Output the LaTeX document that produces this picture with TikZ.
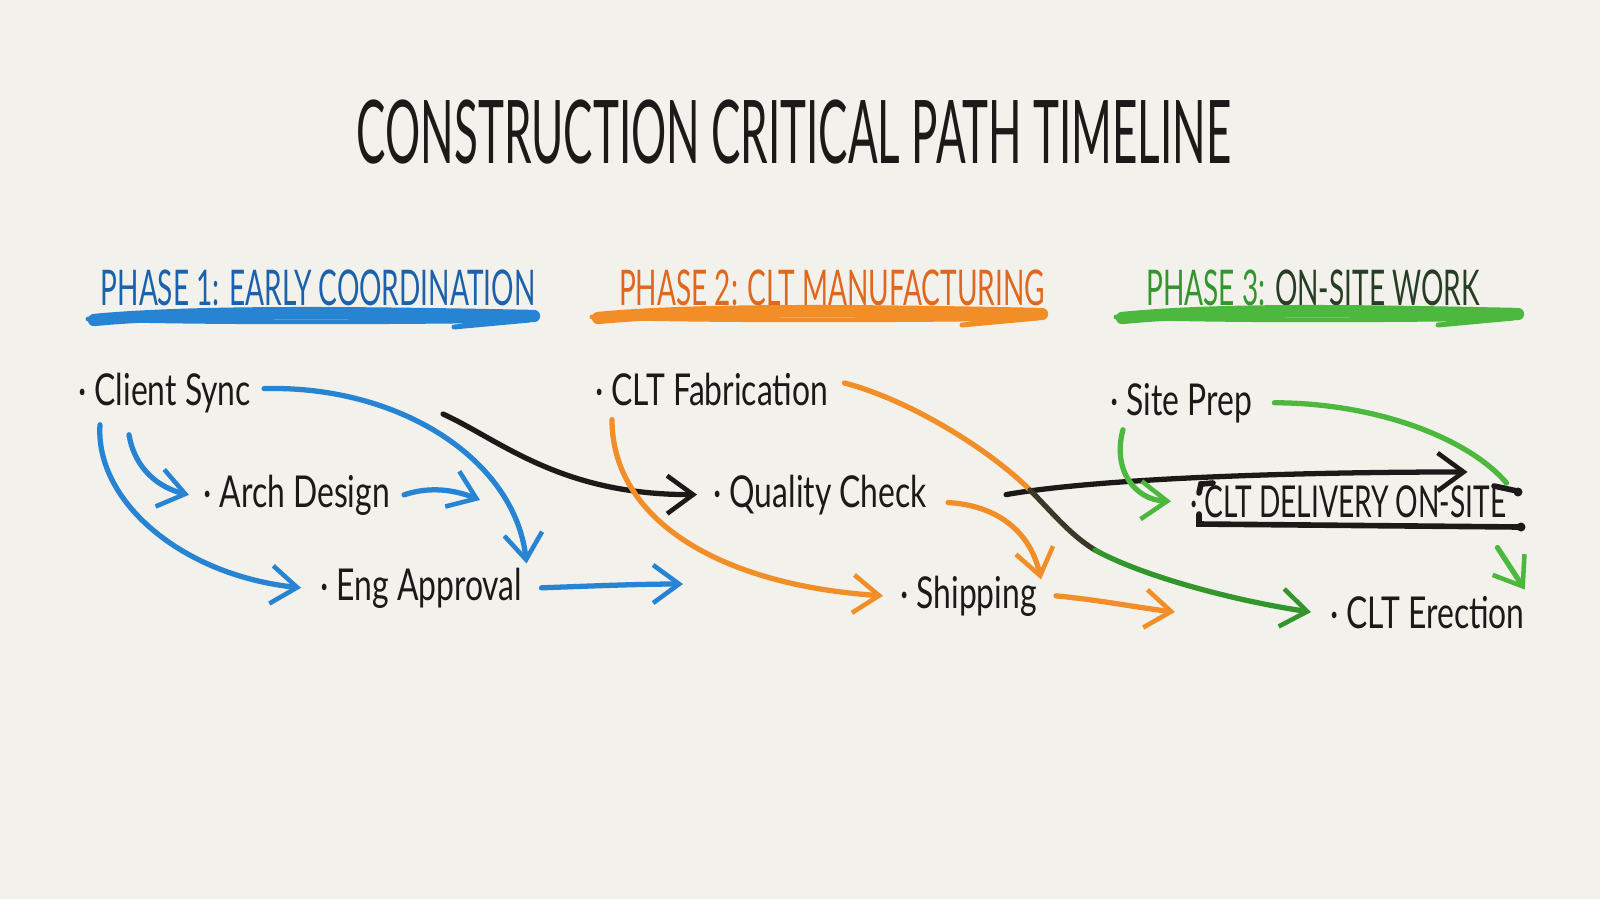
\documentclass[tikz,border=0pt]{standalone}
\usepackage{fontspec}
\usetikzlibrary{arrows.meta}
\newfontfamily\hand[FakeStretch=0.725]{Lato}
\newfontfamily\handcaps[FakeStretch=0.57]{Lato}
\newfontfamily\delivfont[FakeStretch=0.64]{Lato}
\newfontfamily\titlefont[FakeStretch=0.5]{Lato}
\definecolor{paper}{RGB}{243,241,235}
\definecolor{ink}{RGB}{28,26,24}
\definecolor{pblue}{RGB}{38,132,210}
\definecolor{dblue}{RGB}{28,98,170}
\definecolor{porange}{RGB}{242,142,40}
\definecolor{dorange}{RGB}{222,105,30}
\definecolor{pgreen}{RGB}{76,184,62}
\definecolor{dgreen}{RGB}{50,150,45}
\definecolor{mud}{RGB}{60,55,40}
\definecolor{ongreen}{RGB}{40,62,36}

\begin{document}
\begin{tikzpicture}[x=0.1mm,y=-0.1mm,
  item/.style={font=\hand\fontsize{12.5}{14}\selectfont,text=ink,inner sep=1pt,anchor=base west},
  phase/.style={font=\handcaps\fontsize{14}{16}\selectfont,inner sep=1pt},
  pen/.style={line width=1.5pt,line cap=round,line join=round},
  tip/.style={-{Straight Barb[length=2.6mm,width=3.8mm,line width=1.3pt]}}]

  \useasboundingbox (0,0) rectangle (1600,899);
  \fill[paper] (0,0) rectangle (1600,899);

  \node[font=\titlefont\fontsize{25}{28}\selectfont,text=ink,inner sep=0pt] (T) at (794,132) {CONSTRUCTION CRITICAL PATH TIMELINE};

  \node[phase,text=dblue] (P1) at (318,288) {PHASE 1: EARLY COORDINATION};
  \node[phase,text=dorange] (P2) at (832,288) {PHASE 2: CLT MANUFACTURING};
  \node[phase,text=dgreen] (P3) at (1313,288) {PHASE 3: \textcolor{ongreen}{ON-SITE WORK}};

  \foreach \c/\a/\b/\y in {pblue/88/534/318,porange/592/1042/316,pgreen/1116/1518/316} {
    \draw[\c,line width=3.5pt,line cap=round] (\a+6,\y+2) .. controls (\a+110,\y-8) and (\b-150,\y-5) .. (\b,\y-2);
    \draw[\c,line width=1.4pt,line cap=round] (\a,\y+1) .. controls (\a+120,\y+5) and (\b-120,\y+4) .. (\b-4,\y+2) -- (\b-80,\y+9);
  }

  \node[item] (CS) at (74,405) {· Client Sync};
  \node[item] (AD) at (199,507) {· Arch Design};
  \node[item] (EA) at (316,600) {· Eng Approval};
  \node[item] (CF) at (591,405) {· CLT Fabrication};
  \node[item] (QC) at (709,507) {· Quality Check};
  \node[item] (SH) at (896,608) {· Shipping};
  \node[item] (SP) at (1106,415) {· Site Prep};
  \node[item,font=\delivfont\fontsize{12.5}{14}\selectfont] (DL) at (1186,517) {· CLT DELIVERY ON-SITE};
  \node[item] (CE) at (1326,628) {· CLT Erection};

  \coordinate (adx) at (480,500);
  \coordinate (eaout) at (683,584);
  \coordinate (sync) at (443,414);
  \coordinate (mix) at (1030,490);
  \coordinate (mix2) at (1095,550);
  \coordinate (shout) at (1175,612);

  \draw[pen,pblue,tip] ([shift={(9,-4)}]CS.east) .. controls (400,385) and (515,460) .. (EA.north east);
  \draw[pen,pblue,tip] ([xshift=1mm]AD.east) .. controls (430,486) and (455,490) .. (adx);
  \draw[pen,pblue,tip] ([shift={(26,8)}]CS.south west) .. controls (95,500) and (180,575) .. ([xshift=-1.5mm]EA.west);
  \draw[pen,pblue,tip] ([shift={(55,18)}]CS.south west) .. controls (135,470) and (160,488) .. ([xshift=-1mm]AD.west);
  \draw[pen,pblue,tip] ([xshift=1.5mm]EA.east) .. controls (590,586) and (640,584) .. (eaout);

  \draw[pen,ink,tip] (sync) .. controls (500,440) and (560,495) .. ([xshift=-1.2mm]QC.west);
  \draw[pen,ink,tip] ([xshift=7.5mm]QC.east) .. controls (1100,478) and (1300,472) .. ([shift={(-43,-9)}]DL.north east);

  \draw[pen,porange] ([shift={(12,-6)}]CF.east) .. controls (910,400) and (990,450) .. (mix);
  \draw[pen,mud] (mix) .. controls (1050,510) and (1070,535) .. (mix2);
  \draw[pen,dgreen,tip] (mix2) .. controls (1140,575) and (1230,600) .. ([xshift=-1.5mm]CE.west);
  \draw[pen,porange,tip] ([shift={(21,10)}]CF.south west) .. controls (612,520) and (720,585) .. ([xshift=-1.3mm]SH.west);
  \draw[pen,porange,tip] ([shift={(17,8)}]QC.east) .. controls (995,505) and (1030,530) .. ([shift={(0,8)}]SH.north east);
  \draw[pen,porange,tip] ([xshift=1.5mm]SH.east) .. controls (1100,600) and (1140,608) .. (shout);

  \draw[pen,pgreen] ([xshift=1.8mm]SP.east) .. controls (1380,403) and (1470,440) .. ([shift={(-4,2)}]DL.north east);
  \draw[pen,pgreen,tip] ([shift={(-13,26)}]DL.south east) -- ([shift={(-4,-2)}]CE.north east);
  \draw[pen,pgreen,tip] ([shift={(17,3)}]SP.south west) .. controls (1112,470) and (1135,500) .. ([xshift=-1.5mm]DL.west);

  \draw[ink,line width=1.6pt,line cap=round] (1199,493) -- (1201,484) -- (1213,483);
  \draw[ink,line width=1.6pt,line cap=round] (1494,486) -- (1517,491);
  \fill[ink] (1518,492) circle (0.45mm);
  \draw[ink,line width=1.6pt,line cap=round] (1199,514) -- (1199,524) -- (1520,527);
  \fill[ink] (1521,527) circle (0.45mm);
\end{tikzpicture}
\end{document}
